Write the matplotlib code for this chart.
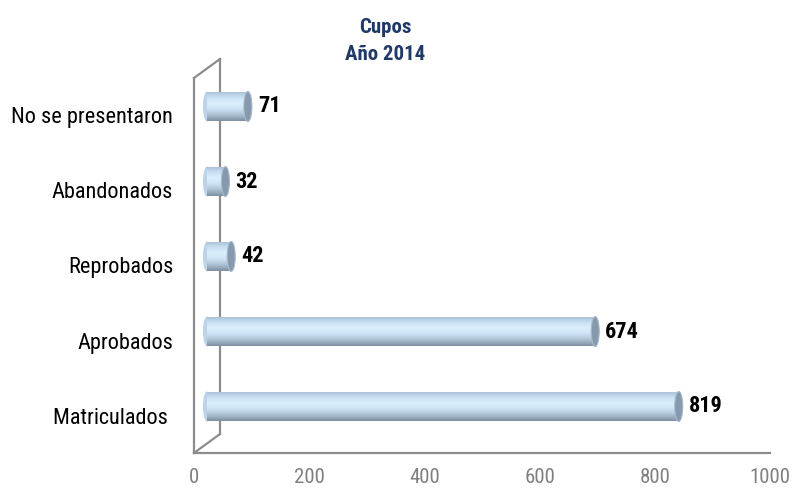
import numpy as np
import matplotlib
matplotlib.use("Agg")
import matplotlib.pyplot as plt
import matplotlib.transforms as mtransforms
from matplotlib.patches import Ellipse, Rectangle
from matplotlib.colors import to_rgb

# datos
categorias = ["Matriculados ", "Aprobados", "Reprobados", "Abandonados", "No se presentaron"]
valores = [819, 674, 42, 32, 71]
xticks = [0, 200, 400, 600, 800, 1000]
titulo = "Cupos\nAño 2014"

plt.rcParams['font.family'] = ['Roboto Condensed', 'Archivo Narrow', 'Liberation Sans', 'DejaVu Sans']

fig = plt.figure(figsize=(7.93, 4.91), dpi=100)
W, H = 793, 491
ax = fig.add_axes([194 / W, 38 / H, (770 - 194) / W, (453 - 78) / H])
ax.set_xlim(0, 1000)
ax.set_ylim(-0.5, 4.5)

# pared 3D (en pixeles)
dx, dy = 26, 19
gris = '#8c8c8c'
lw = 1.6
ax_trans = ax.transAxes
off = mtransforms.ScaledTranslation(dx / 100, dy / 100, fig.dpi_scale_trans)
ax.plot([0, 0], [0, 1], color=gris, lw=lw, transform=ax_trans + off, clip_on=False)
# diagonales
inv = fig.transFigure.inverted()
for yy in (0, 1):
    p0 = ax_trans.transform((0, yy))
    a = inv.transform(p0)
    b = inv.transform((p0[0] + dx, p0[1] + dy))
    fig.add_artist(plt.Line2D([a[0], b[0]], [a[1], b[1]], color=gris, lw=lw))

for s in ['top', 'right']:
    ax.spines[s].set_visible(False)
for s in ['left', 'bottom']:
    ax.spines[s].set_color(gris)
    ax.spines[s].set_linewidth(lw)

# barras cilindricas
trans = ax.transData + mtransforms.ScaledTranslation(dx / 200, (dy - 1) / 200, fig.dpi_scale_trans)
alto = 0.4
stops = ['#a6bdd3', '#c8e0f4', '#daf0fd', '#cde3f5', '#abc0d3', '#7e8fa3']
pos = np.linspace(0, 1, len(stops))
t = np.linspace(0, 1, 64)
cols = np.array([to_rgb(c) for c in stops])
grad = np.stack([np.interp(t, pos, cols[:, k]) for k in range(3)], axis=-1)[:, None, :]
ew = 14  # ancho de la elipse en unidades de datos

for i, v in enumerate(valores):
    ell_l = Ellipse((0, i), ew, alto, transform=trans, facecolor='#bcd3e8', edgecolor='none', zorder=1.9)
    ax.add_patch(ell_l)
    im = ax.imshow(grad, extent=(0, v, i - alto / 2, i + alto / 2), aspect='auto',
                   origin='upper', interpolation='bilinear', transform=trans, zorder=2)
    rect = Rectangle((0, i - alto / 2), v, alto, transform=trans, facecolor='none', edgecolor='none')
    ax.add_patch(rect)
    im.set_clip_path(rect)
    cap = Ellipse((v, i), ew, alto, transform=trans, facecolor='#8799ad',
                  edgecolor='#a9bacb', lw=0.8, zorder=3)
    ax.add_patch(cap)
    ax.annotate(str(v), xy=(v, i), xytext=(23 * 0.72, 9 * 0.72), textcoords='offset points',
                ha='left', va='center', fontsize=16, fontweight='bold', color='black')

ax.set_xlim(0, 1000)
ax.set_ylim(-0.5, 4.5)
ax.set_xticks(xticks)
ax.set_yticks(range(len(categorias)))
ax.set_yticklabels(categorias)
ax.tick_params(axis='x', length=0, pad=11, labelsize=15, labelcolor='#808080')
ax.tick_params(axis='y', length=0, pad=15, labelsize=16, labelcolor='black')

fig.text(385 / W, 1 - 41 / H, titulo, ha='center', va='center', fontsize=15,
         fontweight='bold', color='#1f3a68', linespacing=1.55)

fig.savefig('out.png', dpi=100)
